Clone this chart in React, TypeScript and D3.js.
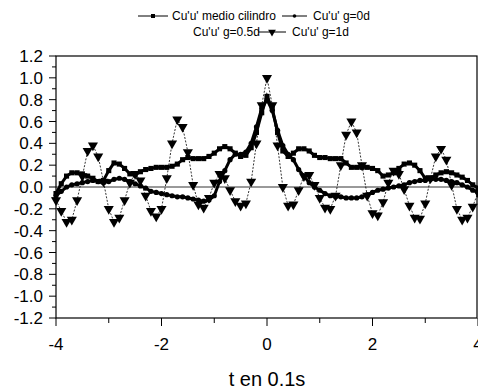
import React from "react";
import * as d3 from "d3";

const tValues: number[] = [
  -4.0, -3.9, -3.8, -3.7, -3.6, -3.5, -3.4, -3.3, -3.2, -3.1,
  -3.0, -2.9, -2.8, -2.7, -2.6, -2.5, -2.4, -2.3, -2.2, -2.1,
  -2.0, -1.9, -1.8, -1.7, -1.6, -1.5, -1.4, -1.3, -1.2, -1.1,
  -1.0, -0.9, -0.8, -0.7, -0.6, -0.5, -0.4, -0.3, -0.2, -0.1,
  0.0, 0.1, 0.2, 0.3, 0.4, 0.5, 0.6, 0.7, 0.8, 0.9,
  1.0, 1.1, 1.2, 1.3, 1.4, 1.5, 1.6, 1.7, 1.8, 1.9,
  2.0, 2.1, 2.2, 2.3, 2.4, 2.5, 2.6, 2.7, 2.8, 2.9,
  3.0, 3.1, 3.2, 3.3, 3.4, 3.5, 3.6, 3.7, 3.8, 3.9, 4.0,
];

// Cu'u' medio cilindro (squares)
const medioCilindro: number[] = [
  -0.06, 0.03, 0.1, 0.13, 0.13, 0.12, 0.1, 0.08, 0.05, 0.06,
  0.15, 0.22, 0.21, 0.17, 0.12, 0.11, 0.14, 0.16, 0.17, 0.18,
  0.18, 0.18, 0.19, 0.21, 0.25, 0.27, 0.26, 0.26, 0.26, 0.28,
  0.31, 0.35, 0.37, 0.35, 0.31, 0.28, 0.29, 0.36, 0.5, 0.68,
  0.83, 0.72, 0.5, 0.33, 0.28, 0.31, 0.35, 0.35, 0.33, 0.29,
  0.27, 0.27, 0.26, 0.26, 0.26, 0.22, 0.18, 0.18, 0.18, 0.18,
  0.17, 0.15, 0.1, 0.11, 0.13, 0.17, 0.21, 0.22, 0.2, 0.15,
  0.08, 0.08, 0.11, 0.13, 0.14, 0.13, 0.11, 0.09, 0.06, 0.02, -0.01,
];

// Cu'u' g=0d (dots)
const g0d: number[] = [
  -0.08, -0.04, 0.0, 0.02, 0.03, 0.04, 0.05, 0.06, 0.05, 0.04,
  0.05, 0.07, 0.08, 0.07, 0.05, 0.03, 0.01, -0.01, -0.04, -0.05,
  -0.06, -0.07, -0.08, -0.09, -0.09, -0.1, -0.11, -0.12, -0.13, -0.12,
  -0.08, 0.05, 0.15, 0.25, 0.3, 0.3, 0.32, 0.4, 0.55, 0.72,
  0.8, 0.7, 0.52, 0.38, 0.3, 0.25, 0.16, 0.1, 0.04, 0.0,
  -0.03, -0.06, -0.08, -0.09, -0.09, -0.1, -0.1, -0.1, -0.09, -0.07,
  -0.05, -0.03, -0.02, -0.01, 0.0, 0.01, 0.02, 0.04, 0.05, 0.06,
  0.06, 0.07, 0.07, 0.07, 0.06, 0.05, 0.04, 0.02, 0.0, -0.03, -0.05,
];

// Cu'u' g=1d (down triangles)
const g1d: number[] = [
  -0.12, -0.22, -0.32, -0.3, -0.12, 0.1, 0.33, 0.38, 0.28, 0.05,
  -0.2, -0.32, -0.28, -0.12, 0.04, 0.12, 0.06, -0.08, -0.22, -0.27,
  -0.2, 0.08, 0.4, 0.62, 0.55, 0.32, 0.02, -0.16, -0.19, -0.1,
  0.04, 0.12, 0.08, -0.03, -0.13, -0.17, -0.15, 0.05, 0.4, 0.75,
  1.0, 0.75, 0.38, 0.0, -0.17, -0.16, -0.03, 0.1, 0.11, 0.02,
  -0.1, -0.19, -0.2, -0.08, 0.2, 0.48, 0.6, 0.5, 0.2, -0.08,
  -0.24, -0.26, -0.14, 0.04, 0.15, 0.12, -0.02, -0.17, -0.28, -0.29,
  -0.15, 0.08, 0.28, 0.35, 0.25, 0.02, -0.2, -0.3, -0.28, -0.18, -0.05,
];

const yTickLabels: string[] = ["-1.2", "-1.0", "-0.8", "-0.6", "-0.4", "-0.2", "0.0", "0.2", "0.4", "0.6", "0.8", "1.0", "1.2"];
const xTickLabels: string[] = ["-4", "-2", "0", "2", "4"];
const legendLabels: string[] = ["Cu'u' medio cilindro", "Cu'u' g=0d", "Cu'u' g=0.5d", "Cu'u' g=1d"];
const xTitle = "t en 0.1s";

const W = 478;
const H = 389;
const FONT = "'Liberation Sans', Arial, sans-serif";

export default function App() {
  const x = d3.scaleLinear().domain([-4, 4]).range([56, 478]);
  const y = d3.scaleLinear().domain([-1.2, 1.2]).range([318, 56]);

  const mk = (vals: number[]) => tValues.map((t, i) => [t, vals[i]] as [number, number]);
  const line = d3
    .line<[number, number]>()
    .x((d) => x(d[0]))
    .y((d) => y(d[1]));

  const sq = d3.symbol().type(d3.symbolSquare).size(26)() as string;
  const sqLeg = d3.symbol().type(d3.symbolSquare).size(16)() as string;
  const tri = d3.symbol().type(d3.symbolTriangle).size(44)() as string;
  const triLeg = d3.symbol().type(d3.symbolTriangle).size(26)() as string;

  const yMajor = yTickLabels.map((s) => +s);
  const yMinor = d3.range(-1.1, 1.2, 0.2);
  const xMajor = xTickLabels.map((s) => +s);
  const xMinor = [-3, -1, 1, 3];

  const dA = mk(medioCilindro);
  const dB = mk(g0d);
  const dC = mk(g1d);

  return (
    <svg
      width={W}
      height={H}
      style={{ position: "absolute", left: 0, top: 0, background: "#fff" }}
      fontFamily={FONT}
    >
      <rect x={0} y={0} width={W} height={H} fill="#fff" />
      {/* Legend */}
      <g fontSize={12} fill="#000">
        <line x1={138} x2={168} y1={16} y2={16} stroke="#000" strokeWidth={1} />
        <path d={sqLeg} transform="translate(153,16)" fill="#000" />
        <text x={172} y={20}>{legendLabels[0]}</text>
        <line x1={282} x2={307} y1={16} y2={16} stroke="#000" strokeWidth={1} />
        <circle cx={294.5} cy={16} r={1.8} fill="#000" />
        <text x={313} y={20}>{legendLabels[1]}</text>
        <text x={193} y={36}>{legendLabels[2]}</text>
        <line x1={258} x2={286} y1={32} y2={32} stroke="#000" strokeWidth={1} />
        <path d={triLeg} transform="translate(272,32) rotate(180)" fill="#000" />
        <text x={292} y={36}>{legendLabels[3]}</text>
      </g>

      {/* Frame */}
      <rect x={56} y={56} width={421} height={262} fill="none" stroke="#000" strokeWidth={1.2} />

      {/* zero line */}
      <line x1={x(-4)} x2={x(4)} y1={y(0)} y2={y(0)} stroke="#000" strokeWidth={0.8} />

      {/* Y ticks */}
      {yMajor.map((v, i) => (
        <g key={"ym" + i}>
          <line x1={49} x2={56} y1={y(v)} y2={y(v)} stroke="#000" strokeWidth={1} />
          <text x={43} y={y(v) + 6} textAnchor="end" fontSize={17}>
            {yTickLabels[i]}
          </text>
        </g>
      ))}
      {yMinor.map((v, i) => (
        <line key={"yn" + i} x1={52} x2={56} y1={y(v)} y2={y(v)} stroke="#000" strokeWidth={1} />
      ))}

      {/* X ticks */}
      {xMajor.map((v, i) => (
        <g key={"xm" + i}>
          <line x1={x(v)} x2={x(v)} y1={318} y2={326} stroke="#000" strokeWidth={1} />
          <text x={x(v)} y={350} textAnchor="middle" fontSize={17}>
            {xTickLabels[i]}
          </text>
        </g>
      ))}
      {xMinor.map((v, i) => (
        <line key={"xn" + i} x1={x(v)} x2={x(v)} y1={318} y2={323} stroke="#000" strokeWidth={1} />
      ))}

      <text x={267} y={386} textAnchor="middle" fontSize={20}>
        {xTitle}
      </text>

      {/* Series lines */}
      <path d={line(dC) as string} fill="none" stroke="#000" strokeWidth={0.8} strokeDasharray="2,1.5" />
      <path d={line(dB) as string} fill="none" stroke="#000" strokeWidth={3} />
      <path d={line(dA) as string} fill="none" stroke="#000" strokeWidth={3} />

      {/* Markers */}
      {dB.map((d, i) => (
        <circle key={"b" + i} cx={x(d[0])} cy={y(d[1])} r={2.6} fill="#000" />
      ))}
      {dA.map((d, i) => (
        <path key={"a" + i} d={sq} transform={`translate(${x(d[0])},${y(d[1])})`} fill="#000" />
      ))}
      {dC.map((d, i) => (
        <path
          key={"c" + i}
          d={tri}
          transform={`translate(${x(d[0])},${y(d[1])}) rotate(180)`}
          fill="#000"
        />
      ))}
    </svg>
  );
}
